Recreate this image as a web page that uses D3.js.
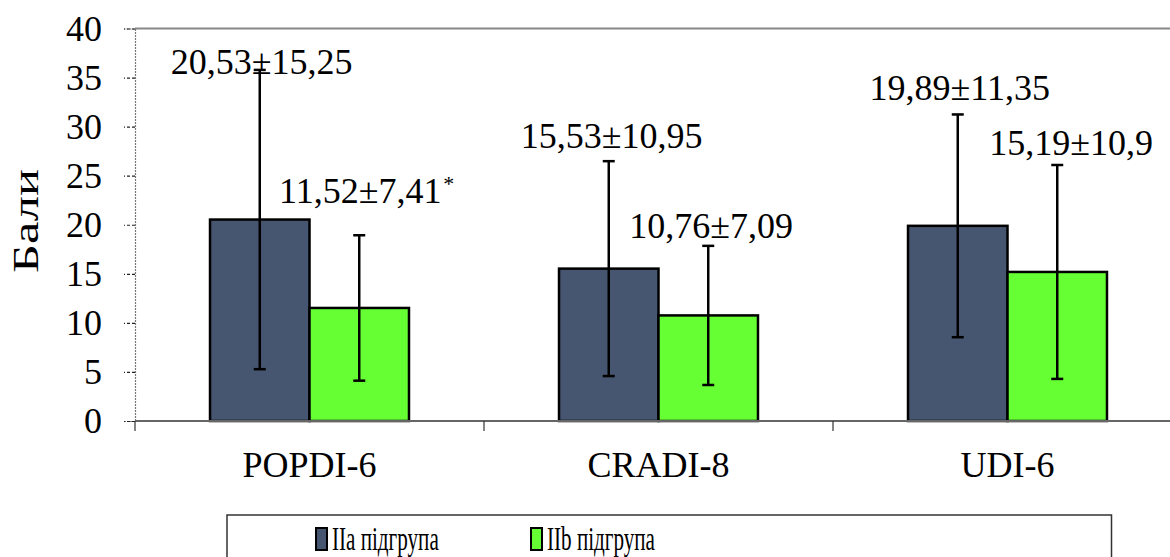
<!DOCTYPE html>
<html>
<head>
<meta charset="utf-8">
<script src="https://cdn.jsdelivr.net/npm/d3@7"></script>
<style>
  html, body { margin: 0; padding: 0; background: #fff; }
  svg text { font-family: "Liberation Serif", Tinos, "Nimbus Roman", "Times New Roman", "DejaVu Serif", serif; }
</style>
</head>
<body>
<svg id="chart" width="1170" height="557"></svg>
<script>
// ---- data ----
const categories = ["POPDI-6", "CRADI-8", "UDI-6"];
const seriesNames = ["IIa підгрупа", "IIb підгрупа"];
const meansIIa = [20.53, 15.53, 19.89];
const sdIIa = [15.25, 10.95, 11.35];
const meansIIb = [11.52, 10.76, 15.19];
const sdIIb = [7.41, 7.09, 10.9];
const labelsIIa = ["20,53±15,25", "15,53±10,95", "19,89±11,35"];
const labelsIIb = ["11,52±7,41", "10,76±7,09", "15,19±10,9"];
const marksIIb = ["*", "", ""];
const yTicks = [0, 5, 10, 15, 20, 25, 30, 35, 40];
const yTitle = "Бали";

// label placement (data units for baseline, px offsets) – layout only
const labelBaseIIa = [35.4, 27.8, 32.7];
const labelBaseIIb = [22.2, 18.7, 27.1];
const labelDxIIa = [2, 3, 2];
const labelDxIIb = [1, 3, 14];

const colors = { "IIa підгрупа": "#465570", "IIb підгрупа": "#66ff33" };

(function () {
const svg = d3.select("#chart");
const pL = 135, pR = 1182, pT = 28.5, pB = 421;

const x0 = d3.scaleBand().domain(categories).range([pL, pR]).paddingInner(0).paddingOuter(0);
const x1 = d3.scaleBand().domain(seriesNames).range([0, x0.bandwidth()]).paddingInner(0).paddingOuter(0.754);
const y = d3.scaleLinear().domain([0, 40]).range([pB, pT]);

const rows = [];
categories.forEach((c, i) => {
  rows.push({ cat: c, s: seriesNames[0], v: meansIIa[i], sd: sdIIa[i], label: labelsIIa[i], mark: "", lb: labelBaseIIa[i], dx: labelDxIIa[i] });
  rows.push({ cat: c, s: seriesNames[1], v: meansIIb[i], sd: sdIIb[i], label: labelsIIb[i], mark: marksIIb[i], lb: labelBaseIIb[i], dx: labelDxIIb[i] });
});

// top border
svg.append("line").attr("x1", pL).attr("x2", 1170).attr("y1", pT).attr("y2", pT)
  .attr("stroke", "#888").attr("stroke-width", 2);

// y axis
const yAxis = d3.axisLeft(y).tickValues(yTicks).tickSize(11).tickPadding(22);
const gy = svg.append("g").attr("transform", `translate(${pL},0)`).call(yAxis);
gy.attr("font-family", null);
gy.select(".domain").attr("stroke", "#777").attr("stroke-width", 1.2).attr("stroke-dasharray", "2,1");
gy.selectAll(".tick line").attr("stroke", "#222").attr("stroke-width", 1.2).attr("stroke-dasharray", "3,2");
gy.selectAll(".tick text").attr("font-size", 36).attr("fill", "#000");

// bars
svg.append("g").selectAll("rect").data(rows).join("rect")
  .attr("x", d => x0(d.cat) + x1(d.s))
  .attr("y", d => y(d.v))
  .attr("width", x1.bandwidth())
  .attr("height", d => y(0) - y(d.v))
  .attr("fill", d => colors[d.s])
  .attr("stroke", "#000").attr("stroke-width", 2.5);

// x axis
svg.append("line").attr("x1", pL).attr("x2", 1170).attr("y1", pB).attr("y2", pB)
  .attr("stroke", "#666").attr("stroke-width", 2);
svg.append("g").selectAll("line").data(categories).join("line")
  .attr("x1", d => x0(d)).attr("x2", d => x0(d))
  .attr("y1", pB).attr("y2", pB + 10)
  .attr("stroke", "#333").attr("stroke-width", 1.2);
svg.append("g").selectAll("text").data(categories).join("text")
  .attr("x", d => x0(d) + x0.bandwidth() / 2)
  .attr("y", 477)
  .attr("text-anchor", "middle")
  .attr("font-size", 36)
  .text(d => d);

// error bars
const eb = svg.append("g").selectAll("g").data(rows).join("g");
const cx = d => x0(d.cat) + x1(d.s) + x1.bandwidth() / 2;
eb.append("line")
  .attr("x1", cx).attr("x2", cx)
  .attr("y1", d => y(d.v + d.sd)).attr("y2", d => y(d.v - d.sd))
  .attr("stroke", "#000").attr("stroke-width", 2.5);
eb.append("line")
  .attr("x1", d => cx(d) - 6).attr("x2", d => cx(d) + 6)
  .attr("y1", d => y(d.v + d.sd)).attr("y2", d => y(d.v + d.sd))
  .attr("stroke", "#000").attr("stroke-width", 2.5);
eb.append("line")
  .attr("x1", d => cx(d) - 6).attr("x2", d => cx(d) + 6)
  .attr("y1", d => y(d.v - d.sd)).attr("y2", d => y(d.v - d.sd))
  .attr("stroke", "#000").attr("stroke-width", 2.5);

// value labels
svg.append("g").selectAll("text").data(rows).join("text")
  .attr("x", d => cx(d) + d.dx)
  .attr("y", d => y(d.lb))
  .attr("text-anchor", "middle")
  .attr("font-size", 36)
  .text(d => d.label);
svg.append("g").selectAll("text").data(rows.filter(d => d.mark)).join("text")
  .attr("x", d => cx(d) + d.dx + 83)
  .attr("y", d => y(d.lb) - 12)
  .attr("font-size", 22)
  .text(d => d.mark);

// y title
svg.append("text")
  .attr("transform", "translate(38,221) rotate(-90) scale(1.4,1)")
  .attr("text-anchor", "middle")
  .attr("font-size", 36)
  .text(yTitle);

// legend
const lg = svg.append("g");
lg.append("rect").attr("x", 227).attr("y", 515).attr("width", 884.5).attr("height", 80)
  .attr("fill", "#fff").attr("stroke", "#333").attr("stroke-width", 1.5);
const legX = [316, 531];
const li = lg.selectAll("g").data(seriesNames).join("g")
  .attr("transform", (d, i) => `translate(${legX[i]},528)`);
li.append("rect").attr("width", 11).attr("height", 22)
  .attr("fill", d => colors[d]).attr("stroke", "#000").attr("stroke-width", 2);
li.append("text")
  .attr("transform", "translate(16,22) scale(0.64,1)")
  .attr("font-size", 33)
  .text(d => d);
})();
</script>
</body>
</html>
